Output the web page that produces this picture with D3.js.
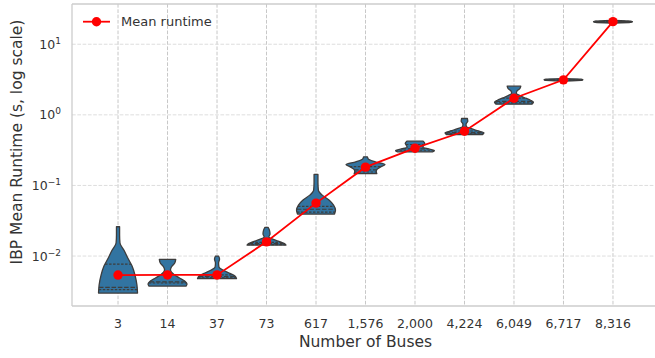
<!DOCTYPE html>
<html><head><meta charset="utf-8">
<script src="https://cdn.jsdelivr.net/npm/d3@7/dist/d3.min.js"></script>
<style>body{margin:0;background:#fff}svg{display:block;font-family:"DejaVu Sans",sans-serif}</style>
</head><body><svg id="c" width="655" height="358"></svg>
<script>
const categories = ["3","14","37","73","617","1,576","2,000","4,224","6,049","6,717","8,316"];
const meanRuntime = [0.00538,0.0054,0.0054,0.0159,0.0562,0.1815,0.337,0.586,1.72,3.13,20.9];
// violin outlines: runtime values (s) and relative half-widths
const profVals = [
  [0.0260,0.0198,0.01528,0.01216,0.00937,0.00722,0.00538,0.00389,0.00299],
  [0.00898,0.00796,0.00699,0.00634,0.00556,0.00489,0.00443,0.00402,0.00376],
  [0.0100,0.00907,0.00796,0.00699,0.00634,0.00575,0.00521,0.00478],
  [0.0255,0.0233,0.0205,0.0186,0.0172,0.0159,0.01503,0.01432],
  [0.1432,0.1114,0.0859,0.0729,0.0619,0.0527,0.0448,0.0393],
  [0.254,0.236,0.216,0.198,0.1845,0.170,0.157,0.147],
  [0.4236,0.397,0.372,0.348,0.3266,0.311,0.299],
  [0.887,0.813,0.738,0.680,0.637,0.593,0.556,0.527],
  [2.546,2.35,2.165,2.03,1.87,1.72,1.61,1.51,1.417],
  [3.26,3.2,3.13,3.07,3.01],
  [21.7,21.2,20.9,20.5,20.0]
];
const profWidths = [
  [0.08,0.08,0.1,0.3,0.5,0.72,0.87,0.97,1.0],
  [0.42,0.37,0.2,0.15,0.3,0.62,0.88,1.0,0.95],
  [0.08,0.13,0.08,0.1,0.3,0.62,0.92,1.0],
  [0.08,0.15,0.18,0.12,0.35,0.7,0.92,1.0],
  [0.1,0.1,0.12,0.32,0.68,0.9,1.0,0.95],
  [0.1,0.15,0.5,1.0,0.8,0.6,0.55,0.58],
  [0.42,0.5,0.45,0.4,0.75,1.0,0.9],
  [0.15,0.17,0.08,0.1,0.35,0.7,1.0,0.93],
  [0.35,0.3,0.15,0.12,0.3,0.6,0.85,1.0,0.92],
  [0.1,0.9,1.0,0.9,0.1],
  [0.1,0.9,1.0,0.9,0.1]
];
const q1 = [0.00335,0.00415,0.0049,0.0145,0.042,0.155,0.31,0.54,1.48,3.1,20.7];
const medians = [0.0036,0.0043,0.0051,0.0150,0.046,0.166,0.33,0.56,1.55,3.13,20.9];
const q3 = [0.0077,0.0055,0.0054,0.0156,0.0505,0.185,0.38,0.59,1.72,3.16,21.1];
const yTicks = [0.01,0.1,1,10];
const yExps = ["−2","−1","0","1"];

const svg = d3.select("#c");
const L=72, R=659, T=4, B=306;
const x = d3.scalePoint().domain(categories).range([L,R]).padding(0.93);
const y = d3.scaleLog().domain([Math.pow(10,-2.7075), Math.pow(10,1.570)]).range([B,T]);
const HW = 19.5;

// grid
const g = svg.append("g");
g.selectAll(".gx").data(categories).join("line")
  .attr("x1",d=>x(d)).attr("x2",d=>x(d)).attr("y1",T).attr("y2",B)
  .attr("stroke","#c8c8c8").attr("stroke-width",1).attr("stroke-dasharray","3.7,1.6");
g.selectAll(".gy").data(yTicks).join("line")
  .attr("x1",L).attr("x2",R).attr("y1",d=>y(d)).attr("y2",d=>y(d))
  .attr("stroke","#dedede").attr("stroke-width",1).attr("stroke-dasharray","3.7,1.6");

// spines
svg.append("line").attr("x1",L).attr("x2",L).attr("y1",T).attr("y2",B).attr("stroke","#cccccc").attr("stroke-width",1.3);
svg.append("line").attr("x1",L).attr("x2",R).attr("y1",B).attr("y2",B).attr("stroke","#cccccc").attr("stroke-width",1.3);
svg.append("line").attr("x1",L).attr("x2",R).attr("y1",T).attr("y2",T).attr("stroke","#cccccc").attr("stroke-width",1.3);

// violins
function widthAt(i,v){
  const vs=profVals[i], ws=profWidths[i];
  const lv=Math.log10(v);
  for(let k=0;k<vs.length-1;k++){
    const a=Math.log10(vs[k]), b=Math.log10(vs[k+1]);
    if((lv<=a&&lv>=b)){ const t=(lv-a)/(b-a||1); return ws[k]+(ws[k+1]-ws[k])*t; }
  }
  return 0;
}
categories.forEach((c,i)=>{
  const cx=x(c);
  const pts=profVals[i].map((v,k)=>({v,w:profWidths[i][k]}));
  const area=d3.area().y(d=>y(d.v)).x0(d=>cx-d.w*HW).x1(d=>cx+d.w*HW).curve(d3.curveMonotoneY);
  svg.append("path").attr("d",area(pts)).attr("fill","#3274a1")
    .attr("stroke","#3d3d3d").attr("stroke-width",1.3).attr("stroke-linejoin","round");
  [[q1[i],"2.5,1.5"],[medians[i],"4.5,1.8"],[q3[i],"2.5,1.5"]].forEach(([v,da])=>{
    const w=widthAt(i,v)*HW;
    if(w<=0) return;
    svg.append("line").attr("x1",cx-w).attr("x2",cx+w).attr("y1",y(v)).attr("y2",y(v))
      .attr("stroke","#3d3d3d").attr("stroke-width",1.2).attr("stroke-dasharray",da);
  });
});

// mean line
const line=d3.line().x((d,i)=>x(categories[i])).y(d=>y(d));
svg.append("path").attr("d",line(meanRuntime)).attr("fill","none").attr("stroke","#ff0000").attr("stroke-width",1.8);
svg.selectAll(".m").data(meanRuntime).join("circle")
  .attr("cx",(d,i)=>x(categories[i])).attr("cy",d=>y(d)).attr("r",4.7).attr("fill","#ff0000");

// x tick labels
svg.selectAll(".xt").data(categories).join("text")
  .attr("x",d=>x(d)).attr("y",328).attr("text-anchor","middle")
  .attr("font-size",12.5).attr("fill","#333").text(d=>d);

// y tick labels
const yl = svg.selectAll(".yt").data(yTicks).join("text")
  .attr("x",61).attr("y",d=>y(d)+4.5).attr("text-anchor","end")
  .attr("font-size",12.5).attr("fill","#333");
yl.append("tspan").text("10");
yl.append("tspan").attr("dy",-5).attr("font-size",9).text((d,i)=>yExps[i]);

// axis labels
svg.append("text").attr("x",(L+R)/2).attr("y",347).attr("text-anchor","middle")
  .attr("font-size",15.5).attr("fill","#333").text("Number of Buses");
svg.append("text").attr("transform","translate(22,142) rotate(-90)").attr("text-anchor","middle")
  .attr("font-size",15.5).attr("fill","#333").text("IBP Mean Runtime (s, log scale)");

// legend
svg.append("line").attr("x1",83).attr("x2",110).attr("y1",21.7).attr("y2",21.7).attr("stroke","#ff0000").attr("stroke-width",1.8);
svg.append("circle").attr("cx",96.5).attr("cy",21.7).attr("r",4.7).attr("fill","#ff0000");
svg.append("text").attr("x",121).attr("y",26.2).attr("font-size",13).attr("fill","#333").text("Mean runtime");
</script></body></html>
